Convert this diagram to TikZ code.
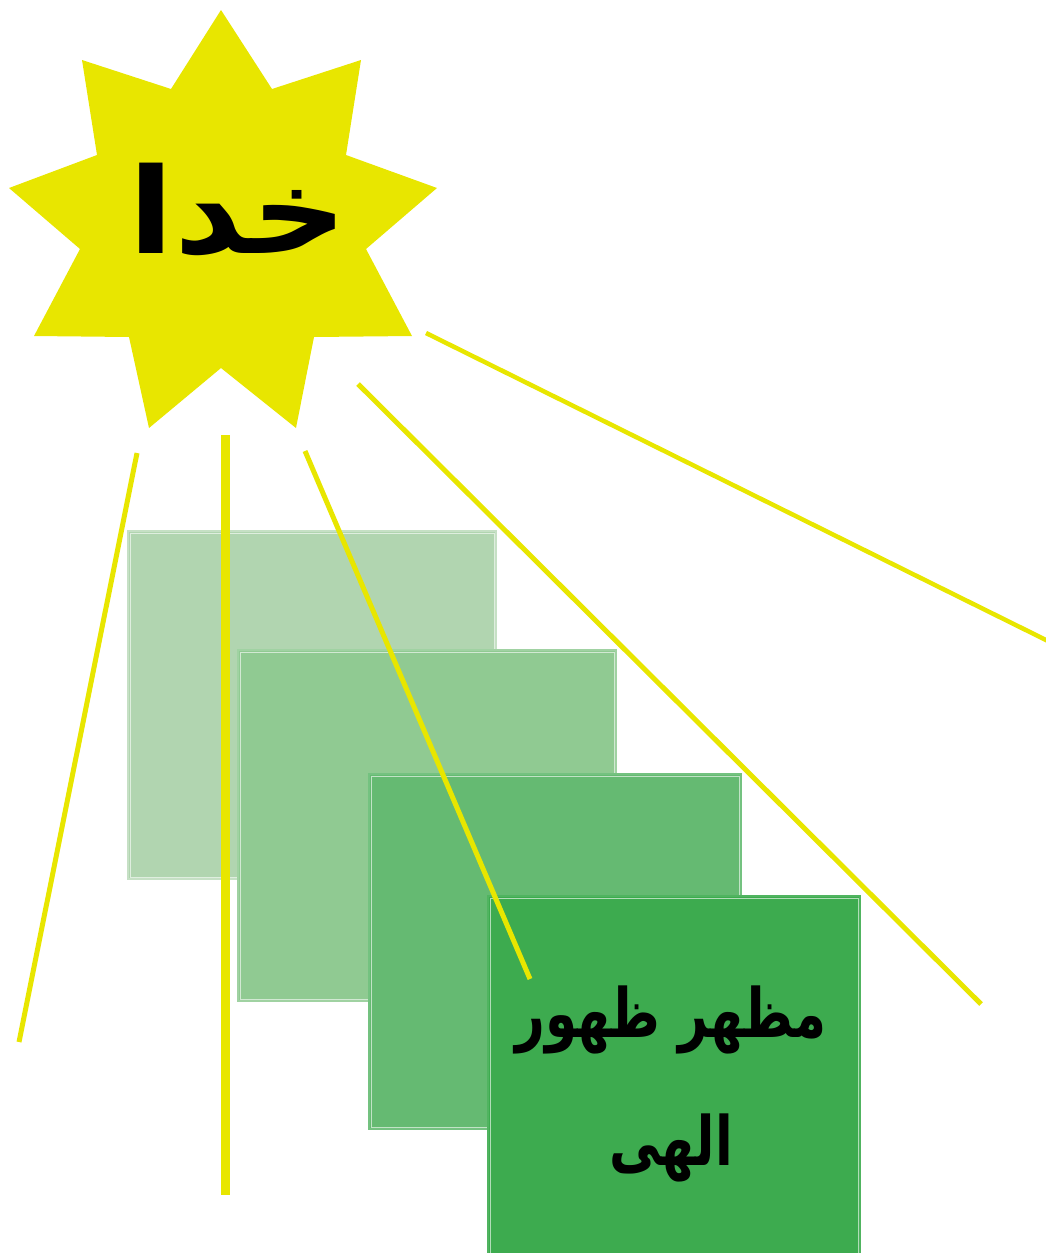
\documentclass[tikz,border=0pt]{standalone}
\usepackage{fontspec}
\newfontfamily\arabicfont[Script=Arabic]{DejaVu Sans}
\TeXXeTstate=1
\definecolor{staryellow}{RGB}{232,230,0}
\definecolor{gA}{RGB}{177,213,176}
\definecolor{gAb}{RGB}{198,224,197}
\definecolor{gB}{RGB}{144,202,146}
\definecolor{gBb}{RGB}{160,210,162}
\definecolor{gC}{RGB}{101,186,114}
\definecolor{gCb}{RGB}{116,194,128}
\definecolor{gD}{RGB}{61,171,79}
\definecolor{gDb}{RGB}{80,180,96}
\tikzset{
  ray/.style={draw=staryellow, line width=5pt},
  bigray/.style={draw=staryellow, line width=8.5pt},
  label/.style={font=\arabicfont\bfseries, text=black, align=center, inner sep=0pt, transform shape}
}
\begin{document}
\begin{tikzpicture}[x=1pt,y=-1pt]
\useasboundingbox (0,0) rectangle (1045,1253);
% star
\fill[staryellow] (221,10) -- (171,89) -- (82,60) -- (97,155) -- (9,188) -- (80,249)
  -- (34,336) -- (129,337) -- (149,428) -- (221,368) -- (296,428) -- (314,337)
  -- (412,336) -- (366,249) -- (437,188) -- (346,155) -- (361,60) -- (272,89) -- cycle;
% rectangles
\foreach \n/\xa/\ya/\xb/\yb/\c/\cb in {A/127/530/497/880/gA/gAb, B/237/649/617/1002/gB/gBb, C/368/773/742/1130/gC/gCb, D/487/895/861/1260/gD/gDb}{
  \fill[\c] (\xa,\ya) rectangle (\xb,\yb);
  \draw[\cb, line width=2.5pt] (\xa+1,\ya+1) rectangle (\xb-1,\yb-1);
  \draw[white, opacity=0.6, line width=1pt] (\xa+3,\ya+3) rectangle (\xb-3,\yb-3);
  \coordinate (r\n) at ({(\xa+\xb)/2},{(\ya+\yb)/2});
}
% ray ends
\coordinate (a1) at (137,453); \coordinate (b1) at (19,1042);
\coordinate (a2) at (225.5,435); \coordinate (b2) at (225.5,1195);
\coordinate (a3) at (305,451); \coordinate (b3) at (530,979);
\coordinate (a4) at (358,384); \coordinate (b4) at (981,1004);
\coordinate (a5) at (426,333); \coordinate (b5) at (1048,641);
\draw[ray] (a1) -- (b1);
\draw[bigray] (a2) -- (b2);
\draw[ray] (a3) -- (b3);
\draw[ray] (a4) -- (b4);
\draw[ray, line width=4.5pt] (a5) -- (b5);
% texts
\node[label, font=\arabicfont\bfseries\fontsize{119}{140}\selectfont, xscale=1.12, yscale=1] (god) at (238,210) {\beginR خدا\endR};
\node[label, font=\arabicfont\bfseries\fontsize{68}{128}\selectfont, xscale=0.76] (mazhar) at (671,1084) {\beginR مظهر ظهور\endR\\\beginR الهی\endR};
\end{tikzpicture}
\end{document}
